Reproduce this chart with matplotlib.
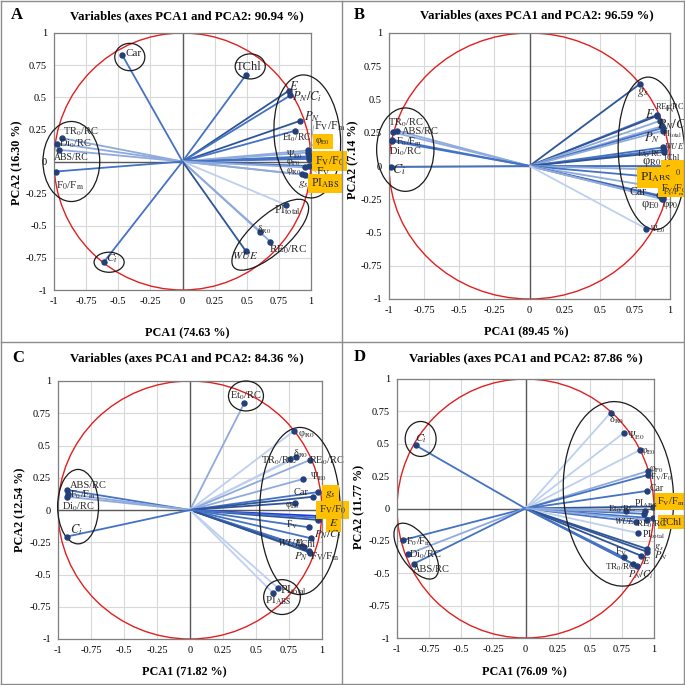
import numpy as np
import matplotlib.pyplot as plt
from matplotlib.patches import Ellipse
from matplotlib.lines import Line2D

plt.rcParams['font.family'] = 'Liberation Serif'
plt.rcParams['mathtext.fontset'] = 'stix'

# label text for each variable
LABELS = {
    'TR0/RC': 'TR$_0$/RC', 'Di0/RC': 'Di$_0$/RC', 'ABS/RC': 'ABS/RC',
    'F0/Fm': 'F$_0$/F$_\\mathrm{m}$', 'Car': 'Car', 'TChl': 'TChl', 'E': '$E$',
    'PN/Ci': '$P_N/C_i$', 'PN': '$P_N$', 'FV/Fm': 'F$_\\mathrm{V}$/F$_\\mathrm{m}$',
    'Et0/RC': 'Et$_0$/RC', 'phiE0': 'φ$_\\mathrm{E0}$', 'PsiE0': 'Ψ$_\\mathrm{E0}$',
    'FV/F0': 'F$_\\mathrm{V}$/F$_0$', 'phiP0': 'φ$_\\mathrm{P0}$', 'phiR0': 'φ$_\\mathrm{R0}$',
    'FV': 'F$_\\mathrm{V}$', 'gs': '$g_s$', 'PIabs': 'PI$_\\mathrm{ABS}$',
    'PItot': 'PI$_\\mathrm{total}$', 'dR0': 'δ$_\\mathrm{R0}$', 'RE0/RC': 'RE$_0$/RC',
    'WUE': '$WUE$', 'Ci': '$C_i$',
}

# ---------------- panel A ----------------
a_vars = ['TR0/RC', 'Di0/RC', 'ABS/RC', 'F0/Fm', 'Car', 'TChl', 'E', 'PN/Ci', 'PN', 'FV/Fm',
          'Et0/RC', 'phiE0', 'PsiE0', 'FV/F0', 'phiP0', 'FV', 'phiR0', 'gs', 'PIabs', 'PItot',
          'dR0', 'RE0/RC', 'WUE', 'Ci']
a_x = [-0.938, -0.974, -0.964, -0.987, -0.47, 0.495, 0.826, 0.839, 0.917, 0.985,
       0.875, 0.98, 0.975, 0.995, 0.985, 0.985, 0.95, 0.93, 0.955, 0.807,
       0.605, 0.683, 0.495, -0.61]
a_y = [0.182, 0.14, 0.091, -0.078, 0.83, 0.675, 0.55, 0.514, 0.317, 0.04,
       0.239, 0.086, 0.07, 0.03, 0.02, -0.035, -0.045, -0.10, -0.105, -0.338,
       -0.545, -0.623, -0.70, -0.78]

# ---------------- panel B ----------------
b_vars = ['TR0/RC', 'ABS/RC', 'F0/Fm', 'Di0/RC', 'Ci', 'gs', 'RE0/RC', 'E', 'FV', 'PN/Ci',
          'PItot', 'PN', 'WUE', 'Et0/RC', 'TChl', 'phiR0', 'dR0', 'PIabs', 'FV/F0', 'Car',
          'FV/Fm', 'phiE0', 'phiP0', 'PsiE0']
b_x = [-0.941, -0.969, -0.98, -0.982, -0.986, 0.786, 0.91, 0.905, 0.93, 0.945,
       0.948, 0.952, 0.952, 0.955, 0.96, 0.97, 0.99, 0.96, 0.97, 0.92,
       0.935, 0.945, 0.95, 0.829]
b_y = [0.265, 0.253, 0.198, 0.187, -0.008, 0.617, 0.386, 0.375, 0.34, 0.3,
       0.286, 0.266, 0.14, 0.12, 0.105, 0.0, -0.03, -0.09, -0.17, -0.22,
       -0.235, -0.245, -0.25, -0.471]

# ---------------- panel C ----------------
c_vars = ['Et0/RC', 'phiR0', 'dR0', 'TR0/RC', 'RE0/RC', 'PsiE0', 'gs', 'Car', 'phiE0', 'FV/F0',
          'E', 'FV', 'PN/Ci', 'WUE', 'TChl', 'PN', 'FV/Fm', 'PItot', 'PIabs', 'ABS/RC',
          'F0/Fm', 'Di0/RC', 'Ci', 'phiP0']
c_x = [0.412, 0.785, 0.806, 0.76, 0.907, 0.856, 0.97, 0.932, 0.798, 0.967,
       0.97, 0.9, 0.92, 0.85, 0.866, 0.9, 0.91, 0.667, 0.626, -0.932,
       -0.927, -0.932, -0.932, 0.968]
c_y = [0.83, 0.611, 0.407, 0.392, 0.387, 0.24, 0.139, 0.103, 0.057, -0.046,
       -0.077, -0.134, -0.22, -0.28, -0.289, -0.32, -0.33, -0.606, -0.64, 0.155,
       0.124, 0.103, -0.206, -0.06]

# ---------------- panel D ----------------
d_vars = ['Ci', 'F0/Fm', 'Di0/RC', 'ABS/RC', 'dR0', 'PsiE0', 'phiE0', 'phiP0', 'FV/F0', 'Car',
          'FV/Fm', 'PIabs', 'Et0/RC', 'TChl', 'WUE', 'RE0/RC', 'PItot', 'gs', 'PN', 'E',
          'FV', 'TR0/RC', 'PN/Ci', 'phiR0']
d_x = [-0.855, -0.953, -0.914, -0.87, 0.663, 0.767, 0.891, 0.956, 0.956, 0.948,
       0.995, 0.922, 0.782, 0.99, 0.86, 0.943, 0.878, 0.948, 0.948, 0.9,
       0.767, 0.834, 0.865, 0.93]
d_y = [0.488, -0.244, -0.352, -0.427, 0.74, 0.586, 0.452, 0.29, 0.26, 0.136,
       0.015, -0.041, -0.023, -0.075, -0.103, -0.087, -0.19, -0.313, -0.335, -0.365,
       -0.378, -0.427, -0.442, -0.02]

# styles: line shade index, label offsets, font sizes
SHADES = ['#2F5597', '#4472C4', '#8FAADC', '#BDD0EE', '#1A35E8']
a_shade = [2, 2, 2, 1, 1, 1, 0, 1, 0, 1, 1, 2, 2, 1, 1, 1, 2, 2, 2, 3, 2, 2, 0, 1]
b_shade = [2, 2, 1, 1, 1, 0, 1, 0, 2, 2, 1, 2, 1, 1, 0, 1, 2, 1, 2, 1, 0, 2, 2, 3]
c_shade = [2, 3, 3, 3, 2, 2, 1, 0, 0, 4, 0, 1, 1, 1, 1, 0, 0, 3, 3, 1, 2, 2, 1, 1]
d_shade = [1, 1, 2, 1, 3, 3, 3, 2, 1, 1, 0, 1, 2, 1, 1, 2, 3, 0, 0, 0, 1, 1, 1, 2]

a_off = [(0.008, 0.052), (0.013, -0.005), (-0.039, -0.06), (0.0, -0.112), (0.03, 0.01),
         (-0.078, 0.057), (0.005, 0.03), (0.015, -0.01), (0.03, 0.03), (0.036, 0.238),
         (-0.1, -0.052), (0.054, 0.07), (-0.167, -0.018), (0.039, -0.025), (-0.177, -0.025),
         (0.057, -0.051), (-0.142, -0.033), (-0.031, -0.077), (0.045, -0.064), (-0.093, -0.039),
         (-0.026, 0.013), (-0.006, -0.06), (-0.106, -0.035), (0.013, 0.027)]
b_off = [(-0.064, 0.063), (0.059, 0.007), (0.03, -0.013), (-0.016, -0.077), (0.006, -0.02),
         (-0.023, -0.068), (-0.017, 0.058), (-0.083, 0.011), (0.035, 0.084), (-0.04, 0.01),
         (-0.008, -0.05), (-0.137, -0.056), (0.005, 0.008), (-0.192, -0.035), (-0.012, -0.045),
         (-0.17, 0.03), (-0.03, -0.003), (-0.173, 0.005), (-0.035, 0.0), (-0.209, 0.025),
         (0.012, 0.037), (-0.152, -0.051), (-0.005, -0.046), (0.029, -0.008)]
c_off = [(-0.106, 0.059), (0.033, -0.026), (-0.026, 0.031), (-0.22, -0.011), (-0.007, -0.006),
         (0.056, 0.018), (0.055, -0.015), (-0.147, 0.034), (-0.081, -0.023), (0.008, 0.046),
         (0.08, -0.021), (-0.173, 0.018), (0.022, 0.027), (-0.19, 0.027), (-0.068, 0.024),
         (-0.115, -0.046), (0.002, -0.036), (0.017, -0.018), (-0.055, -0.064), (0.02, 0.038),
         (0.02, -0.008), (-0.038, -0.077), (0.025, 0.051), None]
d_off = [(-0.003, 0.054), (0.02, -0.01), (0.005, -0.005), (-0.006, -0.041), (-0.01, -0.051),
         (0.021, -0.026), (0.008, -0.012), (0.008, 0.008), (0.013, -0.018), (0.016, 0.016),
         (0.031, 0.039), (-0.077, 0.074), (-0.137, 0.018), (0.064, -0.03), (-0.168, 0.008),
         (-0.083, -0.039), (0.03, -0.015), (0.05, 0.015), (0.05, -0.03), (0.01, -0.04),
         (-0.07, 0.041), (-0.215, -0.028), (-0.065, -0.07), None]

a_size = {'TChl': 9, 'PItot': 8.5, 'RE0/RC': 8, 'WUE': 8, 'gs': 8.5, 'E': 9, 'PN/Ci': 9,
          'PN': 9, 'FV/Fm': 8.5, 'FV/F0': 8.5, 'PIabs': 8.5, 'FV': 8.5, 'F0/Fm': 8,
          'TR0/RC': 7.5, 'Di0/RC': 7.5, 'Car': 8, 'Ci': 8.5}
b_size = {'Ci': 10, 'gs': 9, 'E': 9, 'PN/Ci': 9.5, 'PN': 9, 'phiR0': 9, 'dR0': 8.5,
          'PIabs': 9.5, 'FV/F0': 7.5, 'Car': 8.5, 'phiE0': 9, 'phiP0': 8, 'RE0/RC': 6,
          'FV': 6, 'WUE': 6, 'Et0/RC': 6, 'TChl': 6, 'FV/Fm': 5.5, 'PItot': 6, 'PsiE0': 6.5,
          'TR0/RC': 7.5, 'ABS/RC': 7.5, 'F0/Fm': 7.5, 'Di0/RC': 7.5}
c_size = {'Et0/RC': 7.5, 'phiR0': 7.5, 'dR0': 7.5, 'TR0/RC': 7.5, 'RE0/RC': 7.5, 'Car': 7.5,
          'gs': 8.5, 'FV/F0': 8, 'E': 8.5, 'PN/Ci': 8, 'WUE': 8, 'PN': 8, 'FV/Fm': 8,
          'PItot': 8.5, 'PIabs': 8, 'ABS/RC': 7.5, 'F0/Fm': 7.5, 'Di0/RC': 7.5, 'Ci': 9}
d_size = {'Ci': 8.5, 'F0/Fm': 7.5, 'Di0/RC': 7.5, 'ABS/RC': 7.5, 'FV/Fm': 7.5, 'TChl': 7.5,
          'gs': 7.5, 'PN': 7.5, 'E': 7.5, 'PN/Ci': 7.5, 'TR0/RC': 6.5, 'WUE': 6.5, 'Et0/RC': 6.5,
          'RE0/RC': 6.5, 'FV/F0': 6.5, 'PItot': 7, 'FV': 7, 'dR0': 7.5, 'PsiE0': 7.5}

a_mark = {'phiE0', 'FV/F0', 'PIabs'}
b_mark = {'dR0', 'PIabs', 'FV/F0'}
c_mark = {'gs', 'FV/F0', 'E'}
d_mark = {'FV/Fm', 'TChl'}
a_lead = {'phiE0', 'FV/F0', 'FV', 'PIabs', 'FV/Fm'}

# group ellipses: centre x, centre y, width, height, angle
a_rings = [(-0.41, 0.813, 0.234, 0.213, 0), (0.527, 0.74, 0.234, 0.195, 0),
           (0.971, 0.195, 0.515, 0.96, 5), (-0.865, 0.0, 0.442, 0.623, 0),
           (0.683, -0.57, 0.76, 0.29, 42), (-0.571, -0.784, 0.234, 0.156, 0)]
b_rings = [(-0.884, 0.123, 0.408, 0.627, 0), (0.87, 0.095, 0.475, 1.148, 3)]
c_rings = [(0.424, 0.884, 0.265, 0.232, 0), (-0.848, 0.026, 0.31, 0.577, 0),
           (0.833, -0.008, 0.61, 1.296, 0), (0.697, -0.675, 0.278, 0.27, 0)]
d_rings = [(-0.816, 0.537, 0.241, 0.27, 0), (-0.85, -0.329, 0.5, 0.24, -55),
           (0.723, 0.113, 0.855, 1.427, 4)]

W = 685.0
fig = plt.figure(figsize=(6.85, 6.85), dpi=100)


def fx(px):
    return px / W


def fy(py):
    return 1 - py / W


def box(l, t, r, b):
    return [fx(l), fy(b), (r - l) / W, (b - t) / W]


ticks = [-1, -0.75, -0.5, -0.25, 0, 0.25, 0.5, 0.75, 1]
tick_txt = ['-1', '-0.75', '-0.5', '-0.25', '0', '0.25', '0.5', '0.75', '1']


def panel(rect, names, xs, ys, shade, offs, sizes, mark, lead, rings):
    ax = fig.add_axes(rect)
    ax.set_xlim(-1, 1)
    ax.set_ylim(-1, 1)
    ax.set_xticks(ticks)
    ax.set_yticks(ticks)
    ax.set_xticklabels(tick_txt)
    ax.set_yticklabels(tick_txt)
    ax.tick_params(length=0, labelsize=7.5, pad=5)
    ax.grid(color='#D9D9D9', lw=0.8)
    ax.set_axisbelow(True)
    for s in ax.spines.values():
        s.set_color('#7F7F7F')
        s.set_linewidth(0.9)
    ax.axhline(0, color='#595959', lw=1, zorder=1)
    ax.axvline(0, color='#595959', lw=1, zorder=1)
    ax.add_patch(Ellipse((0, 0), 2, 2, fill=False, ec='#E02020', lw=1, zorder=2))
    for i, n in enumerate(names):
        ax.plot([0, xs[i]], [0, ys[i]], color=SHADES[shade[i]], lw=1.3, zorder=3,
                solid_capstyle='butt')
    ax.plot(xs, ys, 'o', color='#24407A', ms=3.6, zorder=5)
    for i, n in enumerate(names):
        if offs[i] is None:
            continue
        lx, ly = xs[i] + offs[i][0], ys[i] + offs[i][1]
        if n in lead:
            ax.plot([xs[i], lx], [ys[i], ly], color='#A6A6A6', lw=0.6, zorder=4,
                    clip_on=False)
        kw = {}
        if n in mark:
            kw['bbox'] = dict(boxstyle='square,pad=0.25', fc='#FFC000', ec='none')
        ax.text(lx, ly, LABELS[n], fontsize=sizes.get(n, 7), ha='left', va='center',
                color='#262626', zorder=6, **kw)
    for cx, cy, w, h, ang in rings:
        ax.add_patch(Ellipse((cx, cy), w, h, angle=ang, fill=False, ec='#1A1A1A',
                             lw=0.9, zorder=4, clip_on=False))
    return ax


panel(box(54, 33, 311, 290), a_vars, a_x, a_y, a_shade, a_off, a_size, a_mark, a_lead, a_rings)
panel(box(389, 33, 670, 299), b_vars, b_x, b_y, b_shade, b_off, b_size, b_mark, set(), b_rings)
panel(box(58, 381, 322, 639), c_vars, c_x, c_y, c_shade, c_off, c_size, c_mark, set(), c_rings)
panel(box(397, 379, 654, 638), d_vars, d_x, d_y, d_shade, d_off, d_size, d_mark, set(), d_rings)

# titles, panel letters and axis titles
titles = ['Variables (axes PCA1 and PCA2: 90.94 %)', 'Variables (axes PCA1 and PCA2: 96.59 %)',
          'Variables (axes PCA1 and PCA2: 84.36 %)', 'Variables (axes PCA1 and PCA2: 87.86 %)']
letters = ['A', 'B', 'C', 'D']
xlabels = ['PCA1 (74.63 %)', 'PCA1 (89.45 %)', 'PCA1 (71.82 %)', 'PCA1 (76.09 %)']
ylabels = ['PCA2 (16.30 %)', 'PCA2 (7.14 %)', 'PCA2 (12.54 %)', 'PCA2 (11.77 %)']
title_pos = [(187, 16), (537, 15), (187, 358), (526, 358)]
letter_pos = [(17, 15), (359, 15), (18, 358), (360, 357)]
xlab_pos = [(187, 333), (526, 332), (184, 672), (524, 672)]
ylab_pos = [(17, 163), (353, 160), (20, 510), (359, 507)]

for i in range(4):
    fig.text(fx(title_pos[i][0]), fy(title_pos[i][1]), titles[i], fontsize=9.2,
             fontweight='bold', ha='center', va='center')
    fig.text(fx(letter_pos[i][0]), fy(letter_pos[i][1]), letters[i], fontsize=12,
             fontweight='bold', ha='center', va='center')
    fig.text(fx(xlab_pos[i][0]), fy(xlab_pos[i][1]), xlabels[i], fontsize=8.7,
             fontweight='bold', ha='center', va='center')
    fig.text(fx(ylab_pos[i][0]), fy(ylab_pos[i][1]), ylabels[i], fontsize=8.7,
             fontweight='bold', ha='center', va='center', rotation=90)

# panel borders
for seg in [((1, 1), (1, 684)), ((684, 684), (1, 684)), ((1, 684), (1, 1)),
            ((1, 684), (684, 684)), ((342, 342), (1, 684)), ((1, 684), (342, 342))]:
    fig.add_artist(Line2D([fx(v) for v in seg[0]], [fy(v) for v in seg[1]],
                          color='#8C8C8C', lw=1))

fig.savefig('out.png', dpi=100)
